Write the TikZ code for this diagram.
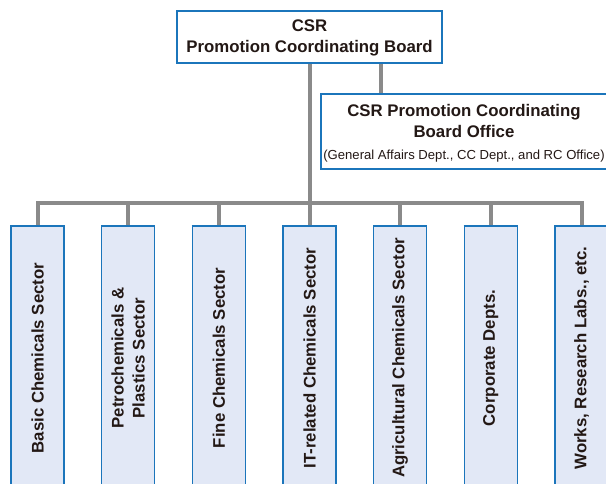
\documentclass[tikz,border=0pt]{standalone}
\usepackage{fontspec}
\setmainfont{Liberation Sans}
\definecolor{boxblue}{HTML}{1B75BB}
\definecolor{boxfill}{HTML}{E2E8F6}
\definecolor{conngray}{HTML}{8A8A8A}
\definecolor{inkdark}{HTML}{231815}
\tikzset{
  orgbox/.style={draw=boxblue, line width=1.3pt, fill=boxfill, inner sep=0pt},
  topbox/.style={draw=boxblue, line width=1.3pt, fill=white, inner sep=0pt},
  boldtxt/.style={text=inkdark, font=\fontsize{16.8}{21}\selectfont\bfseries, align=center, inner sep=0pt},
  vtxt/.style={boldtxt, rotate=90},
  conn/.style={draw=conngray, line width=4pt},
}
\begin{document}
\begin{tikzpicture}[x=1pt,y=-1pt]
\useasboundingbox (0,0) rectangle (606,484);
\clip (0,0) rectangle (606,484);
\fill[white] (0,0) rectangle (606,484);
% top board
\node[topbox, minimum width=265pt, minimum height=52pt] (top) at (309.5,37) {};
\node[boldtxt] (toptxt) at (309.5,37.5) {CSR\\Promotion Coordinating Board};
% office
\node[topbox, minimum width=288pt, minimum height=75pt] (off) at (465,131.5) {};
\node[boldtxt] (offtxt) at (464,133.5) {CSR Promotion Coordinating\\Board Office\\[1pt]{\normalfont\fontsize{13.1}{15}\selectfont (General Affairs Dept., CC Dept., and RC Office)}};
% sector boxes
\foreach \i/\nm in {0/b1,1/b2,2/b3,3/b4,4/b5,5/b6,6/b7}{
  \node[orgbox, minimum width=53pt, minimum height=264pt] (\nm) at ({37.5+90.67*\i},358) {};
}
\node[vtxt] (t1) at (b1.center) {Basic Chemicals Sector};
\node[vtxt] (t2) at (b2.center) {Petrochemicals \&\\Plastics Sector};
\node[vtxt] (t3) at (b3.center) {Fine Chemicals Sector};
\node[vtxt] (t4) at (b4.center) {IT-related Chemicals Sector};
\node[vtxt] (t5) at (b5.center) {Agricultural Chemicals Sector};
\node[vtxt] (t6) at (b6.center) {Corporate Depts.};
\node[vtxt] (t7) at (b7.center) {Works, Research Labs., etc.};
% connectors
\coordinate (bar) at (310,203);
\coordinate (offj) at (381,94);
\draw[conn] (b1.north) |- (bar) -| (b7.north);
\foreach \nm in {b2,b3,b4,b5,b6}{
  \draw[conn] (\nm.north) -- (\nm.north |- bar);
}
\draw[conn] (top.south -| bar) -- (bar);
\draw[conn] (top.south -| offj) -- (offj);
% redraw box borders on top of connector ends
\foreach \nm in {b1,b2,b3,b4,b5,b6,b7}{
  \draw[boxblue, line width=1.3pt] (\nm.north west) -- (\nm.north east);
}
\draw[boxblue, line width=1.3pt] (top.south west) -- (top.south east);
\draw[boxblue, line width=1.3pt] (off.north west) -- (off.north east);
\end{tikzpicture}
\end{document}
